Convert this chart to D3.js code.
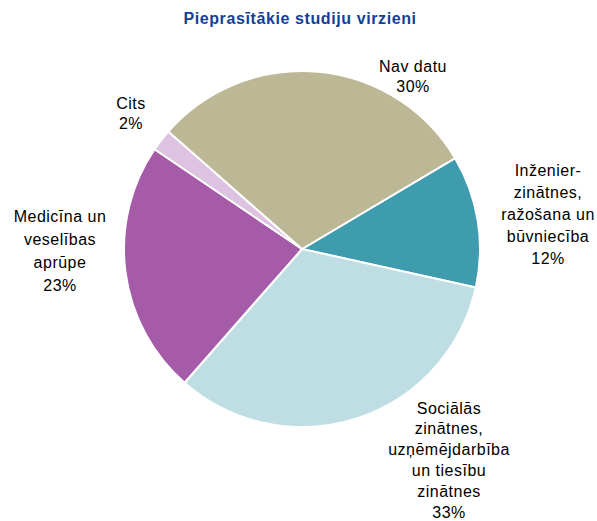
<!DOCTYPE html>
<html>
<head>
<meta charset="utf-8">
<script src="https://cdn.jsdelivr.net/npm/d3@7"></script>
<style>
  body { margin: 0; background: #fff; }
  svg text { font-family: "Liberation Sans", Arial, sans-serif; }
</style>
</head>
<body>
<div id="chart"></div>
<script>
// data, clockwise from the teal slice
const categories = [
    'Inženier-\nzinātnes,\nražošana un\nbūvniecība',
    'Sociālās\nzinātnes,\nuzņēmējdarbība\nun tiesību\nzinātnes',
    'Medicīna un\nveselības\naprūpe',
    'Cits',
    'Nav datu'
];
const shares = [12, 33, 23, 2, 30];
const colors = ['#3f9caf', '#bedee3', '#a65ba8', '#ddc2e1', '#bcb795'];

// label anchor (centre of first line) and line step, layout only
const labelAt = [[548, 170, 22], [449, 408, 20.8], [60, 216, 23], [131, 103, 20], [413, 66, 20]];

const width = 597;
const height = 521;
const cx = 302, cy = 249, radius = 178;

let svg = d3.select('#chart').append('svg')
    .attr('width', width)
    .attr('height', height);

svg.append('text')
    .attr('x', 300)
    .attr('y', 24)
    .attr('text-anchor', 'middle')
    .attr('font-size', 16)
    .attr('letter-spacing', 0.6)
    .attr('font-weight', 'bold')
    .attr('fill', '#123f97')
    .text('Pieprasītākie studiju virzieni');

let rows = categories.map((c, i) => ({name: c, value: shares[i], color: colors[i], pos: labelAt[i]}));

let pie = d3.pie()
    .sort(null)
    .value(d => d.value)
    .startAngle(59.3 * Math.PI / 180)
    .endAngle(59.3 * Math.PI / 180 + 2 * Math.PI);

let arc = d3.arc().innerRadius(0).outerRadius(radius);

let g = svg.append('g').attr('transform', `translate(${cx},${cy})`);

g.selectAll('path').data(pie(rows)).enter().append('path')
    .attr('d', arc)
    .attr('fill', d => d.data.color)
    .attr('stroke', '#fff')
    .attr('stroke-width', 2);

let labels = svg.selectAll('.lbl').data(rows).enter().append('text')
    .attr('class', 'lbl')
    .attr('text-anchor', 'middle')
    .attr('font-size', 16)
    .attr('letter-spacing', 0.5)
    .attr('fill', '#000');

labels.each(function (d) {
    let lines = d.name.split('\n').concat([d.value + '%']);
    let t = d3.select(this);
    lines.forEach((ln, k) => {
        t.append('tspan')
            .attr('x', d.pos[0])
            .attr('y', d.pos[1] + k * d.pos[2])
            .attr('dy', '0.35em')
            .text(ln);
    });
});
</script>
</body>
</html>
